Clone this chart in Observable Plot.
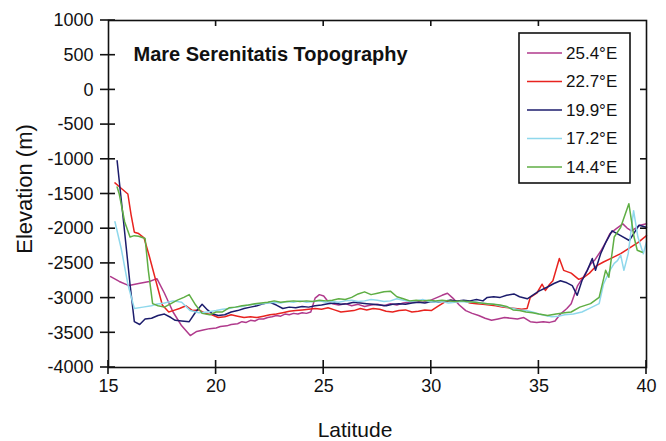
<!DOCTYPE html>
<html><head><meta charset="utf-8">
<script src="https://cdn.jsdelivr.net/npm/d3@7"></script>
<script src="https://cdn.jsdelivr.net/npm/@observablehq/plot@0.6"></script>
<style>
body{margin:0;background:#fff;}
svg{font-family:"Liberation Sans",Arial,sans-serif;}
</style>
</head><body><div id="chart"></div>
<script>
const seriesNames = ["25.4°E", "22.7°E", "19.9°E", "17.2°E", "14.4°E"];
const seriesColors = ["#b03a8c", "#e8231f", "#1c1c6c", "#8fd8ec", "#5fae44"];

const lat254 = [15.1,15.5,15.95,16.4,16.9,17.25,17.6,18.0,18.4,18.8,19.1,19.4,19.7,20.0,20.2,20.5,20.7,21.0,21.2,21.4,21.6,21.8,22.0,22.2,22.4,22.6,22.8,23.0,23.2,23.4,23.6,23.8,24.0,24.2,24.4,24.6,24.8,25.0,25.2,25.4,25.7,26.0,26.3,26.6,26.9,27.2,27.5,27.8,28.1,28.4,28.7,29.0,29.3,29.6,29.9,30.2,30.5,30.75,31.0,31.3,31.6,31.9,32.2,32.5,32.8,33.1,33.4,33.7,34.0,34.3,34.6,34.9,35.2,35.5,35.75,36.0,36.3,36.5,36.8,37.1,37.4,37.6,37.9,38.1,38.3,38.6,38.9,39.1,39.3,39.5,39.7,40.0];
const elev254 = [-2690,-2760,-2820,-2790,-2760,-2720,-2930,-3200,-3400,-3540,-3480,-3460,-3440,-3430,-3410,-3400,-3380,-3370,-3340,-3350,-3320,-3330,-3300,-3300,-3280,-3270,-3250,-3260,-3230,-3240,-3220,-3230,-3210,-3220,-3200,-3000,-2950,-2970,-3050,-3080,-3100,-3080,-3110,-3090,-3120,-3100,-3090,-3110,-3080,-3100,-3070,-3060,-3050,-3060,-3040,-3000,-2960,-2930,-3000,-3100,-3180,-3220,-3250,-3290,-3320,-3300,-3280,-3290,-3300,-3280,-3340,-3350,-3340,-3350,-3330,-3230,-3150,-3080,-2820,-2680,-2510,-2450,-2310,-2200,-2070,-2000,-1930,-1990,-2030,-1990,-1950,-1930];

const lat227 = [15.3,15.6,15.9,16.05,16.2,16.4,16.65,16.9,17.2,17.5,17.8,18.0,18.3,18.6,18.9,19.2,19.5,19.8,20.1,20.4,20.7,21.0,21.3,21.6,21.9,22.2,22.5,22.8,23.1,23.4,23.7,24.0,24.3,24.6,24.9,25.2,25.5,25.8,26.1,26.4,26.7,27.0,27.3,27.6,27.9,28.2,28.5,28.8,29.1,29.4,29.7,30.0,30.3,30.6,30.9,31.2,31.5,31.8,32.1,32.4,32.7,33.0,33.3,33.6,33.9,34.2,34.45,34.6,34.9,35.15,35.3,35.5,35.65,35.95,36.15,36.5,36.85,37.1,37.35,37.65,38.0,38.4,38.8,39.2,39.6,40.0];
const elev227 = [-1340,-1420,-1500,-1800,-2050,-2070,-2130,-2400,-2750,-3100,-3200,-3180,-3150,-3110,-3180,-3170,-3220,-3240,-3280,-3270,-3240,-3260,-3280,-3270,-3280,-3260,-3240,-3230,-3210,-3190,-3180,-3170,-3160,-3150,-3160,-3140,-3170,-3200,-3190,-3180,-3150,-3170,-3150,-3160,-3190,-3200,-3180,-3170,-3200,-3190,-3170,-3180,-3120,-3060,-3030,-3050,-3040,-3070,-3080,-3090,-3100,-3110,-3130,-3140,-3150,-3160,-3150,-2990,-2930,-2800,-2890,-2800,-2750,-2430,-2600,-2640,-2730,-2700,-2640,-2540,-2480,-2420,-2360,-2280,-2200,-2100];

const lat199 = [15.4,15.7,16.0,16.2,16.45,16.7,17.0,17.3,17.6,17.9,18.1,18.4,18.75,19.05,19.35,19.6,19.85,20.1,20.4,20.7,21.0,21.3,21.6,21.9,22.2,22.5,22.8,23.1,23.4,23.7,24.0,24.3,24.6,24.9,25.2,25.5,25.8,26.1,26.4,26.7,27.0,27.3,27.6,27.9,28.2,28.5,28.8,29.1,29.4,29.7,30.0,30.3,30.6,30.9,31.2,31.5,31.8,32.1,32.4,32.6,32.9,33.2,33.5,33.84,34.1,34.46,34.7,35.0,35.4,35.7,36.0,36.3,36.55,36.78,37.0,37.25,37.48,37.63,37.87,38.1,38.4,38.8,39.2,39.45,39.65,40.0];
const elev199 = [-1020,-1900,-2800,-3340,-3380,-3300,-3290,-3250,-3230,-3280,-3320,-3330,-3340,-3200,-3090,-3170,-3230,-3250,-3240,-3200,-3180,-3150,-3130,-3110,-3080,-3060,-3100,-3150,-3130,-3140,-3120,-3130,-3110,-3100,-3080,-3070,-3090,-3080,-3060,-3070,-3080,-3090,-3100,-3110,-3090,-3080,-3090,-3070,-3060,-3070,-3050,-3060,-3040,-3030,-3040,-3030,-3040,-3020,-3040,-2990,-2980,-2990,-2960,-2940,-2980,-3010,-2960,-2900,-2840,-2790,-2750,-2780,-2820,-2960,-2750,-2600,-2430,-2600,-2360,-2200,-2030,-2100,-2170,-2050,-1950,-1980];

const lat172 = [15.3,15.6,15.9,16.2,16.6,17.0,17.2,17.6,18.0,18.4,18.8,19.2,19.6,20.0,20.3,20.6,20.9,21.2,21.5,21.8,22.1,22.4,22.7,23.0,23.3,23.6,23.9,24.2,24.5,24.8,25.1,25.4,25.7,26.0,26.3,26.6,26.9,27.2,27.5,27.8,28.1,28.4,28.7,29.0,29.3,29.6,29.9,30.2,30.5,30.8,31.1,31.4,31.7,32.0,32.3,32.6,32.9,33.2,33.5,33.8,34.1,34.4,34.7,35.0,35.3,35.6,35.9,36.2,36.6,37.0,37.4,37.8,38.0,38.15,38.3,38.5,38.65,38.8,38.95,39.15,39.4,39.6,39.85,40.0];
const elev172 = [-1900,-2300,-2800,-3150,-3130,-3110,-3090,-3070,-3040,-3060,-3180,-3210,-3200,-3180,-3160,-3150,-3130,-3120,-3100,-3090,-3080,-3070,-3060,-3070,-3050,-3060,-3040,-3060,-3050,-3040,-3060,-3050,-3060,-3040,-3030,-3050,-3040,-3020,-3030,-3050,-3040,-3010,-3030,-3050,-3040,-3020,-3050,-3060,-3050,-3070,-3060,-3050,-3060,-3050,-3070,-3080,-3090,-3110,-3130,-3150,-3170,-3180,-3200,-3230,-3250,-3270,-3260,-3240,-3230,-3200,-3140,-3080,-2800,-2700,-2600,-2500,-2460,-2380,-2600,-2360,-1740,-2120,-2360,-2190];

const lat144 = [15.4,15.5,15.75,16.0,16.2,16.4,16.7,16.85,17.05,17.3,17.6,17.9,18.2,18.5,18.75,19.05,19.35,19.7,20.0,20.3,20.6,20.9,21.2,21.5,21.8,22.1,22.4,22.7,23.0,23.3,23.6,23.9,24.2,24.5,24.8,25.1,25.4,25.7,26.0,26.3,26.6,26.9,27.2,27.5,27.8,28.1,28.4,28.7,29.0,29.3,29.6,29.9,30.2,30.5,30.8,31.1,31.4,31.7,32.0,32.3,32.6,32.9,33.2,33.5,33.8,34.1,34.4,34.7,35.0,35.4,35.8,36.2,36.5,36.9,37.4,37.8,38.1,38.25,38.5,38.8,39.18,39.42,39.57,39.8];
const elev144 = [-1400,-1500,-1900,-2120,-2100,-2110,-2140,-2600,-3080,-3110,-3130,-3080,-3030,-2990,-2950,-3100,-3220,-3240,-3200,-3200,-3140,-3130,-3110,-3100,-3080,-3070,-3060,-3040,-3060,-3050,-3040,-3050,-3040,-3050,-3030,-3040,-3030,-3010,-3020,-2990,-2940,-2910,-2950,-2930,-2910,-2900,-2980,-3010,-3040,-3030,-3040,-3030,-3040,-3030,-3040,-3050,-3040,-3050,-3060,-3070,-3080,-3090,-3100,-3120,-3170,-3180,-3200,-3210,-3230,-3250,-3230,-3210,-3200,-3130,-3080,-2990,-2600,-2700,-2120,-1980,-1640,-2120,-2310,-2340];

const yTicks = [1000, 500, 0, -500, -1000, -1500, -2000, -2500, -3000, -3500, -4000];
const xTicks = [15, 20, 25, 30, 35, 40];
const topTicks = [20, 25, 30, 35];
const rightTicks = [0, -1000, -2000, -3000];
const titleText = "Mare Serenitatis Topography";
const xLabel = "Latitude";
const yLabel = "Elevation (m)";

const lats = [lat254, lat227, lat199, lat172, lat144];
const elevs = [elev254, elev227, elev199, elev172, elev144];
const rows = seriesNames.flatMap((s, k) => lats[k].map((la, i) => ({series: s, lat: la, elev: elevs[k][i]})));

const chart = Plot.plot({
  width: 666, height: 441,
  marginLeft: 108, marginRight: 20, marginTop: 20, marginBottom: 74,
  x: {domain: [15, 40]},
  y: {domain: [-4000, 1000]},
  color: {domain: seriesNames, range: seriesColors},
  style: {fontFamily: '"Liberation Sans", Arial, sans-serif', background: "#fff", color: "#111"},
  marks: [
    Plot.line(rows, {x: "lat", y: "elev", z: "series", stroke: "series", strokeWidth: 1.5}),
    Plot.frame({stroke: "#111", strokeWidth: 1.6}),
    Plot.axisY(yTicks, {tickSize: 0, tickPadding: 15, fontSize: 18, tickFormat: d => String(d), label: null}),
    Plot.axisX(xTicks, {tickSize: 0, tickPadding: 12, fontSize: 18, tickFormat: d => String(d), label: null}),
    Plot.text([titleText], {frameAnchor: "top-left", dx: 25, dy: 26, fontSize: 20, fontWeight: "bold", textAnchor: "start", lineAnchor: "top"})
  ]
});
document.getElementById("chart").appendChild(chart);

const svg = d3.select(chart);
const xs = chart.scale("x"), ys = chart.scale("y");
const g = svg.append("g").attr("stroke", "#111").attr("stroke-width", 1.6);
// crossing ticks on left and bottom axes
g.selectAll("line.yt").data(yTicks).join("line")
  .attr("x1", xs.apply(15) - 8).attr("x2", xs.apply(15) + 7)
  .attr("y1", d => ys.apply(d)).attr("y2", d => ys.apply(d));
g.selectAll("line.xt").data(xTicks).join("line")
  .attr("x1", d => xs.apply(d)).attr("x2", d => xs.apply(d))
  .attr("y1", ys.apply(-4000) - 7).attr("y2", ys.apply(-4000) + 7);
g.selectAll("line.tt").data(topTicks).join("line")
  .attr("x1", d => xs.apply(d)).attr("x2", d => xs.apply(d))
  .attr("y1", ys.apply(1000)).attr("y2", ys.apply(1000) + 6);
g.selectAll("line.rt").data(rightTicks).join("line")
  .attr("x1", xs.apply(40)).attr("x2", xs.apply(40) - 6)
  .attr("y1", d => ys.apply(d)).attr("y2", d => ys.apply(d));

// axis titles
svg.append("text").attr("transform", "translate(355,430)")
  .attr("text-anchor", "middle").attr("dy", "0.35em").attr("font-size", 21).attr("fill", "#111").text(xLabel);
svg.append("text").attr("transform", "translate(24,189) rotate(-90)")
  .attr("text-anchor", "middle").attr("dy", "0.35em").attr("font-size", 22).attr("fill", "#111").text(yLabel);

// legend
const leg = svg.append("g");
leg.append("rect").attr("x", 519).attr("y", 33).attr("width", 111).attr("height", 150)
  .attr("fill", "#fff").attr("stroke", "#111").attr("stroke-width", 1.6);
const items = leg.selectAll("g.item").data(seriesNames).join("g")
  .attr("transform", (d, i) => `translate(0,${53 + i * 28.5})`);
items.append("line").attr("x1", 527).attr("x2", 562).attr("y1", 0).attr("y2", 0)
  .attr("stroke", (d, i) => seriesColors[i]).attr("stroke-width", 1.6);
items.append("text").attr("x", 566).attr("y", 0).attr("dy", "0.35em").attr("text-anchor", "start")
  .attr("font-size", 17).attr("fill", "#111").text(d => d);
</script>
</body></html>
